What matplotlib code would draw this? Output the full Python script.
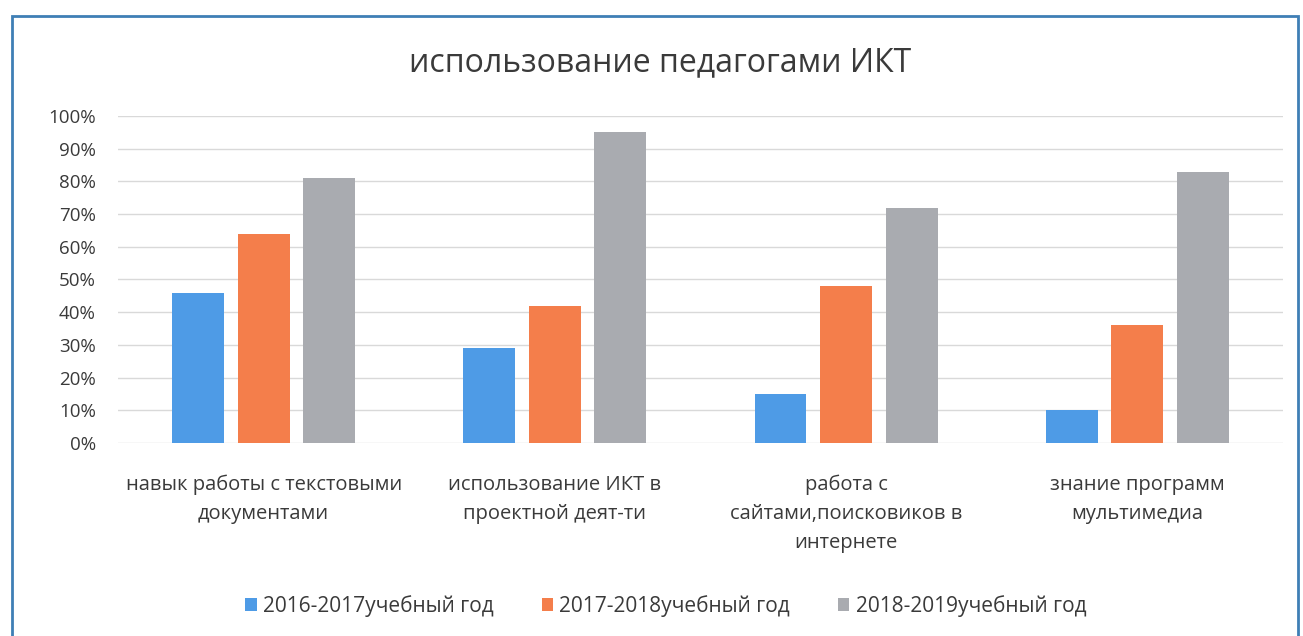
import numpy as np
import matplotlib
matplotlib.use("Agg")
import matplotlib.pyplot as plt
from matplotlib.patches import Rectangle

plt.rcParams['font.family'] = ['Open Sans', 'DejaVu Sans']

categories = ["навык работы с текстовыми\nдокументами",
              "использование ИКТ в\nпроектной деят-ти",
              "работа с\nсайтами,поисковиков в\nинтернете",
              "знание программ\nмультимедиа"]
series_names = ["2016-2017учебный год", "2017-2018учебный год", "2018-2019учебный год"]
v2016 = [0.46, 0.29, 0.15, 0.10]
v2017 = [0.64, 0.42, 0.48, 0.36]
v2018 = [0.81, 0.95, 0.72, 0.83]
colors = ["#4e9be6", "#f47e4b", "#a9abb0"]

fig = plt.figure(figsize=(13.03, 6.36), dpi=100)
ax = fig.add_axes([0.0906, 0.3035, 0.894, 0.5141])

x = np.arange(len(categories))
w = 0.178
step = 0.225
for i, (vals, name) in enumerate(zip([v2016, v2017, v2018], series_names)):
    ax.bar(x + (i - 1) * step, vals, width=w, color=colors[i], label=name, zorder=3)

ax.set_xlim(-0.5, 3.5)
ax.set_ylim(0, 1.0)
ax.set_yticks(np.arange(0, 1.01, 0.1))
ax.set_yticklabels([f"{int(round(t * 100))}%" for t in np.arange(0, 1.01, 0.1)],
                   fontsize=13.5, color="#3a3a3a")
ax.set_xticks(x)
ax.set_xticklabels(categories, fontsize=14.5, color="#3a3a3a", linespacing=1.6)
ax.tick_params(axis='both', length=0)
ax.tick_params(axis='y', pad=16)
ax.tick_params(axis='x', pad=23)
ax.grid(axis='y', color="#d9d9d9", lw=1, zorder=0)
for s in ax.spines.values():
    s.set_visible(False)

fig.text(0.507, 0.902, "использование педагогами ИКТ", ha='center', va='center',
         fontsize=23, color="#3a3a3a")

fig.legend(loc='center', bbox_to_anchor=(0.511, 0.047), ncol=3, frameon=False,
           fontsize=15, handlelength=0.55, handleheight=0.55, columnspacing=2.3,
           handletextpad=0.3, labelcolor="#3a3a3a")

# chart frame
fig.patches.append(Rectangle((0.009, -0.05), 0.987, 1.025, transform=fig.transFigure,
                             fill=False, edgecolor="#3f7fb5", lw=2))

fig.savefig("out.png", dpi=100)
